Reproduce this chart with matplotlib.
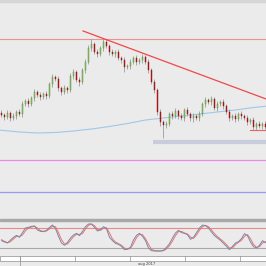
import matplotlib.pyplot as plt
import numpy as np

# close prices (one candle per bar)
closes = [105, 103, 107, 102, 104, 108, 106, 116, 119, 116,
          122, 128, 125, 123, 126, 124, 136, 143, 141, 132,
          128, 132, 130, 144, 148, 140, 138, 150, 158, 172,
          176, 168, 166, 172, 178, 174, 168, 166, 168, 162,
          160, 153, 154, 158, 162, 158, 160, 163, 158, 150,
          138, 130, 108, 98, 95, 96, 106, 104, 109, 104,
          102, 110, 106, 102, 104, 102, 106, 116, 120, 118,
          121, 112, 116, 118, 114, 108, 102, 104, 101, 106,
          104, 102, 98, 100, 93, 96, 94, 96, 93]
first_open = 107
hi_wick = [3, 2, 3, 2, 3, 2, 3, 3, 2, 3,
           2, 3, 2, 3, 2, 3, 2, 3, 2, 3,
           2, 3, 2, 3, 3, 2, 3, 2, 3, 3,
           5, 2, 3, 2, 3, 3, 2, 3, 2, 3,
           2, 3, 2, 3, 2, 3, 2, 3, 2, 3,
           2, 3, 2, 3, 2, 3, 2, 3, 3, 2,
           3, 2, 3, 2, 3, 2, 3, 2, 3, 2,
           3, 2, 3, 2, 3, 2, 3, 2, 3, 2,
           3, 2, 3, 2, 3, 2, 3, 2, 3]
lo_wick = [2, 3, 2, 3, 2, 3, 2, 3, 2, 3,
           2, 3, 2, 3, 2, 3, 2, 3, 2, 3,
           3, 2, 3, 2, 3, 2, 4, 2, 3, 2,
           3, 2, 3, 2, 3, 2, 3, 2, 3, 2,
           3, 5, 2, 3, 2, 3, 2, 3, 2, 3,
           2, 3, 3, 4, 13, 3, 2, 3, 2, 3,
           2, 3, 2, 3, 4, 2, 3, 2, 3, 2,
           3, 2, 3, 2, 3, 2, 3, 2, 3, 2,
           3, 2, 3, 2, 3, 3, 2, 3, 2]

# long moving average
ma_idx = [-1, 6, 12, 18, 24, 30, 36, 42, 48, 54, 60, 66, 72, 78, 84, 89]
ma_val = [90, 88, 87, 87.5, 89, 91, 93.5, 96.5, 100, 102, 104, 106, 108, 110, 112.5, 114]

# drawn lines
top_level = 181
trend_x = [27.2, 88.2]
trend_y = [189, 121]
support_level = 78
support_start = 50.5
small_red_level = 90
small_red_start = 83
pink_level = 60
blue_level = 28

# stochastic oscillator
stoch_k = [42, 38, 35, 44, 52, 58, 52, 66, 80, 82,
           85, 86, 74, 70, 69, 73, 82, 89, 78, 55,
           35, 28, 37, 50, 59, 64, 57, 70, 84, 92,
           92, 82, 71, 75, 84, 78, 52, 42, 34, 31,
           25, 15, 17, 22, 44, 58, 64, 55, 42, 20,
           12, 11, 11, 11, 13, 22, 33, 50, 65, 73,
           66, 64, 60, 46, 52, 66, 80, 89, 87, 80,
           68, 57, 50, 43, 34, 25, 15, 25, 35, 39,
           48, 63, 57, 38, 24, 20, 28, 42, 36]
stoch_d = [45, 40, 36, 39, 47, 55, 55, 59, 72, 80,
           83, 85, 80, 72, 70, 71, 77, 85, 84, 66,
           45, 32, 32, 43, 54, 61, 61, 63, 77, 88,
           92, 87, 76, 73, 79, 81, 65, 47, 38, 33,
           28, 20, 16, 19, 33, 51, 61, 60, 48, 31,
           16, 12, 11, 11, 12, 17, 27, 41, 57, 69,
           70, 65, 62, 53, 49, 59, 73, 84, 88, 84,
           74, 63, 54, 47, 39, 30, 20, 20, 30, 37,
           43, 55, 60, 48, 31, 22, 24, 35, 39]

W, H = 266, 266
bg = '#ebebeb'
fig = plt.figure(figsize=(W / 100, H / 100), dpi=100, facecolor=bg)

x0, x1 = -0.5, 88.17

# main price panel
ax = fig.add_axes([0, (H - 218) / H, 1, 215 / H])
ax.set_facecolor(bg)
n = len(closes)
idx = np.arange(n)
closes = np.array(closes, dtype=float)
opens = np.concatenate([[first_open], closes[:-1]])
body_lo = np.minimum(opens, closes)
body_hi = np.maximum(opens, closes)
highs = body_hi + np.array(hi_wick)
lows = body_lo - np.array(lo_wick)
up = closes >= opens

ax.vlines(idx, lows, highs, color='#8c8c8c', lw=0.5, zorder=2)
ax.bar(idx[up], (body_hi - body_lo)[up], bottom=body_lo[up], width=0.6,
       color='#8ccb62', edgecolor='#5a8a3c', linewidth=0.3, zorder=3)
ax.bar(idx[~up], (body_hi - body_lo)[~up], bottom=body_lo[~up], width=0.6,
       color='#c81820', edgecolor='#801010', linewidth=0.3, zorder=3)

ax.plot(ma_idx, ma_val, color='#a0c8e8', lw=0.8, zorder=1)
ax.axhline(top_level, color='#f29090', lw=0.8, zorder=1)
ax.plot(trend_x, trend_y, color='#f04848', lw=0.9, zorder=4)
ax.plot([support_start, x1], [support_level, support_level], color='#c8ccdc',
        lw=3, solid_capstyle='butt', zorder=1)
ax.plot([small_red_start, x1], [small_red_level, small_red_level],
        color='#f06060', lw=0.8, zorder=1)
ax.axhline(pink_level, color='#e68ce6', lw=0.9)
ax.axhline(blue_level, color='#9a9af5', lw=0.9)

ax.set_xlim(x0, x1)
ax.set_ylim(2, 217)
ax.axis('off')

# separator between panels
fig.patches.append(plt.Rectangle((0, (H - 221) / H), 1, 2 / H,
                                 transform=fig.transFigure, color='#a8a8a8'))
# top shading
fig.patches.append(plt.Rectangle((0, (H - 2) / H), 1, 2 / H,
                                 transform=fig.transFigure, color='#d6d6d6'))

# oscillator panel
ax2 = fig.add_axes([0, (H - 256) / H, 1, 35 / H])
ax2.set_facecolor(bg)
ax2.axhline(80, color='#e88a8a', lw=0.8)
ax2.axhline(20, color='#a8a8a8', lw=0.8)
ax2.plot(idx, stoch_d, color='#f07070', lw=0.7)
ax2.plot(idx, stoch_k, color='#7888a8', lw=0.7)
ax2.set_xlim(x0, x1)
ax2.set_ylim(-4, 101)
ax2.axis('off')

# time axis strip
fig.patches.append(plt.Rectangle((0, (H - 261) / H), 1, 5 / H,
                                 transform=fig.transFigure, facecolor='white',
                                 edgecolor='#a0a0a0', lw=0.6))
for tx in [20, 75, 130, 185, 240]:
    fig.lines.append(plt.Line2D([tx / W, tx / W], [(H - 261) / H, (H - 256) / H],
                                transform=fig.transFigure, color='#909090', lw=0.5))
fig.lines.append(plt.Line2D([20 / W, 20 / W], [0, (H - 256) / H],
                            transform=fig.transFigure, color='#909090', lw=0.5))
fig.text(138 / W, (H - 264) / H, 'aug 2017', fontsize=2.6, color='#404040',
         va='center', ha='left')

fig.savefig('out.png', dpi=100, facecolor=bg)
